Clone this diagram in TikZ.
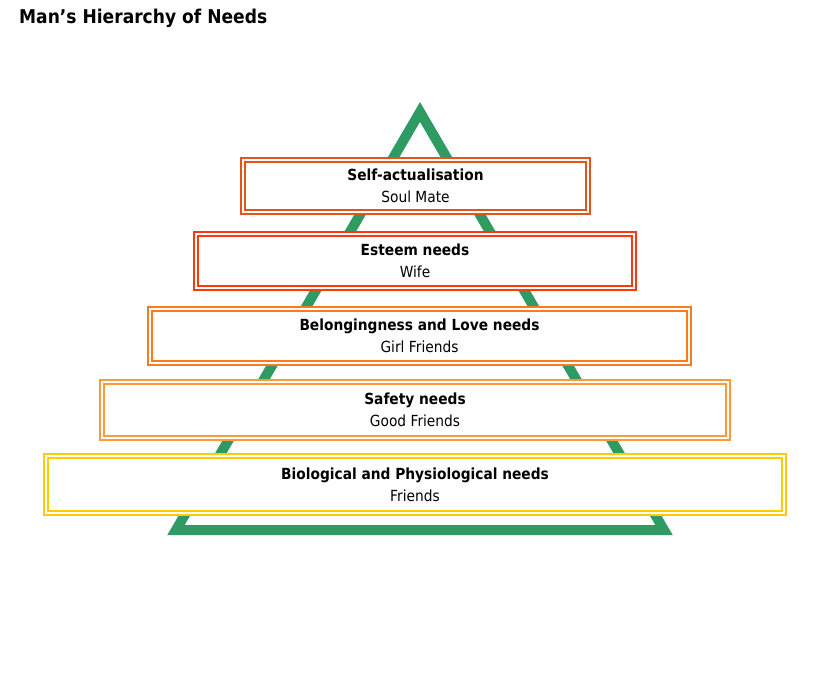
\documentclass[tikz,border=0pt]{standalone}
\usepackage{fontspec}
\setmainfont[FakeStretch=0.9]{DejaVu Sans}
\definecolor{pyrgreen}{HTML}{2E9B63}
\definecolor{lvlself}{HTML}{E2541A}
\definecolor{lvlesteem}{HTML}{FF3A0A}
\definecolor{lvlbelong}{HTML}{FF7A1A}
\definecolor{lvlsafety}{HTML}{FF9A38}
\definecolor{lvlbio}{HTML}{FFCC00}
\usetikzlibrary{positioning}
\tikzset{
	lvlbox/.style={draw=#1, double=white, double distance=2.4pt, line width=1.6pt,
		fill=white, align=center, inner sep=0pt,
		font=\fontsize{15.3}{22}\selectfont, text=black},
	pyrline/.style={draw=pyrgreen, line width=10pt, line join=miter}
}
\begin{document}
\begin{tikzpicture}[x=1pt, y=-1pt]
	\useasboundingbox (0,0) rectangle (840,690);
	\node[anchor=west, font=\fontsize{19}{21}\selectfont\bfseries, inner sep=0pt] (title) at (19,18) {Man’s Hierarchy of Needs};
	% pyramid behind the levels
	\coordinate (apex) at (420,112);
	\coordinate (bl) at (176,530);
	\coordinate (br) at (664,530);
	\draw[pyrline] (apex) -- (br) -- (bl) -- cycle;
	% levels, top to bottom
	\node[lvlbox=lvlself, minimum width=345pt, minimum height=52pt] (self) at (415.5,186) {\textbf{Self-actualisation}\\Soul Mate};
	\node[lvlbox=lvlesteem, minimum width=438pt, minimum height=54pt] (esteem) at (415,261) {\textbf{Esteem needs}\\Wife};
	\node[lvlbox=lvlbelong, minimum width=539pt, minimum height=54pt] (belong) at (419.5,336) {\textbf{Belongingness and Love needs}\\Girl Friends};
	\node[lvlbox=lvlsafety, minimum width=626pt, minimum height=56pt] (safety) at (415,410) {\textbf{Safety needs}\\Good Friends};
	\node[lvlbox=lvlbio, minimum width=738pt, minimum height=57pt] (bio) at (415,484.5) {\textbf{Biological and Physiological needs}\\Friends};
\end{tikzpicture}
\end{document}
